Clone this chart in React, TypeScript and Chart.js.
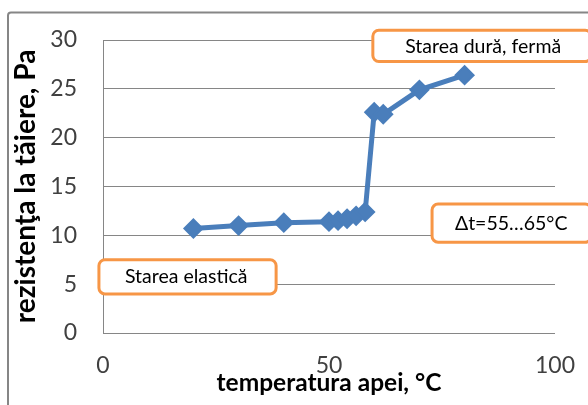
import { useEffect, useRef } from "react";
import { Chart, registerables } from "chart.js";

Chart.register(...registerables);

// Water temperature (°C) and shear strength (Pa)
const temperatures = [20, 30, 40, 50, 52, 54, 56, 58, 60, 62, 70, 80];
const shearStrength = [10.7, 11.0, 11.3, 11.4, 11.5, 11.7, 12.0, 12.4, 22.6, 22.4, 24.9, 26.4];

const xTickValues = [0, 50, 100];
const yTickValues = [0, 5, 10, 15, 20, 25, 30];

const xTitle = "temperatura apei, °C";
const yTitle = "rezistenţa la tăiere, Pa";

const noteTexts = ["Starea dură, fermă", "Starea elastică", "Δt=55…65°C"];

// Note boxes, placed in data units: box edges and text centre
const noteLayout = [
  { x0: 59.7, x1: 108, yTop: 31.0, yBottom: 27.8, tx: 84.1, ty: 29.35 },
  { x0: -0.9, x1: 38.3, yTop: 7.5, yBottom: 4.0, tx: 18.4, ty: 5.75 },
  { x0: 72.8, x1: 108, yTop: 13.2, yBottom: 9.3, tx: 90.3, ty: 11.2 },
];

const LINE_BLUE = "#4a7ebb";
const NOTE_ORANGE = "#f79646";
const GRID_GREY = "#868686";

const framePlugin = {
  id: "frame",
  beforeDraw(chart: Chart) {
    const ctx = chart.ctx;
    ctx.save();
    ctx.fillStyle = "#ffffff";
    ctx.fillRect(0, 0, chart.width, chart.height);
    ctx.strokeStyle = GRID_GREY;
    ctx.lineWidth = 2;
    ctx.beginPath();
    ctx.roundRect(8, 12.5, chart.width + 20, chart.height + 20, 3);
    ctx.stroke();
    ctx.restore();
  },
};

const notesPlugin = {
  id: "notes",
  afterDraw(chart: Chart) {
    const ctx = chart.ctx;
    const xs = chart.scales.x;
    const ys = chart.scales.y;
    ctx.save();
    noteLayout.forEach((n, i) => {
      const left = xs.getPixelForValue(n.x0);
      const right = xs.getPixelForValue(n.x1);
      const top = ys.getPixelForValue(n.yTop);
      const bottom = ys.getPixelForValue(n.yBottom);
      ctx.beginPath();
      ctx.roundRect(left, top, right - left, bottom - top, 6);
      ctx.fillStyle = "#ffffff";
      ctx.fill();
      ctx.lineWidth = 3;
      ctx.strokeStyle = NOTE_ORANGE;
      ctx.stroke();
      ctx.fillStyle = "#000000";
      ctx.font = "19.5px Lato, 'DejaVu Sans', sans-serif";
      ctx.textAlign = "center";
      ctx.textBaseline = "middle";
      ctx.fillText(noteTexts[i], xs.getPixelForValue(n.tx), ys.getPixelForValue(n.ty));
    });
    ctx.restore();
  },
};

export default function App() {
  const canvasRef = useRef<HTMLCanvasElement | null>(null);

  useEffect(() => {
    const canvas = canvasRef.current;
    if (!canvas) return;
    const tickFont = { family: "Lato", size: 23 };

    const chart = new Chart(canvas, {
      type: "line",
      data: {
        datasets: [
          {
            data: temperatures.map((t, i) => ({ x: t, y: shearStrength[i] })),
            borderColor: LINE_BLUE,
            backgroundColor: LINE_BLUE,
            borderWidth: 5,
            pointStyle: "rectRot",
            pointRadius: 9,
            pointBorderWidth: 2,
            pointBorderColor: LINE_BLUE,
            pointBackgroundColor: LINE_BLUE,
            tension: 0,
          },
        ],
      },
      options: {
        responsive: false,
        animation: false,
        devicePixelRatio: 1,
        layout: { padding: { top: 40, right: 33, bottom: 0, left: 0 } },
        plugins: { legend: { display: false }, tooltip: { enabled: false } },
        scales: {
          x: {
            type: "linear",
            min: 0,
            max: 100,
            afterBuildTicks(scale) {
              scale.ticks = xTickValues.map((v) => ({ value: v }));
            },
            afterFit(scale) {
              scale.height = 72;
              scale.paddingLeft = 0;
              scale.paddingRight = 0;
            },
            ticks: { font: tickFont, color: "#404040", padding: 19 },
            grid: { display: false, drawTicks: false },
            border: { display: false },
            title: {
              display: true,
              text: xTitle,
              font: { family: "Lato", size: 24.5, weight: "bold", lineHeight: 1 },
              color: "#000000",
              padding: { top: 0, bottom: 9.25 },
            },
          },
          y: {
            type: "linear",
            min: 0,
            max: 30,
            afterBuildTicks(scale) {
              scale.ticks = yTickValues.map((v) => ({ value: v }));
            },
            afterFit(scale) {
              scale.width = 103;
            },
            ticks: { font: tickFont, color: "#404040", padding: 26 },
            grid: { color: GRID_GREY, drawTicks: false },
            border: { display: true, color: GRID_GREY },
            title: {
              display: true,
              text: yTitle,
              font: { family: "Lato", size: 28, weight: "bold", lineHeight: 1 },
              color: "#000000",
              padding: { top: 12, bottom: 0 },
            },
          },
        },
      },
      plugins: [framePlugin, notesPlugin],
    });
    return () => chart.destroy();
  }, []);

  return (
    <div style={{ position: "absolute", left: 0, top: 0, width: 588, height: 405, overflow: "hidden" }}>
      <canvas ref={canvasRef} width={588} height={405} />
    </div>
  );
}
